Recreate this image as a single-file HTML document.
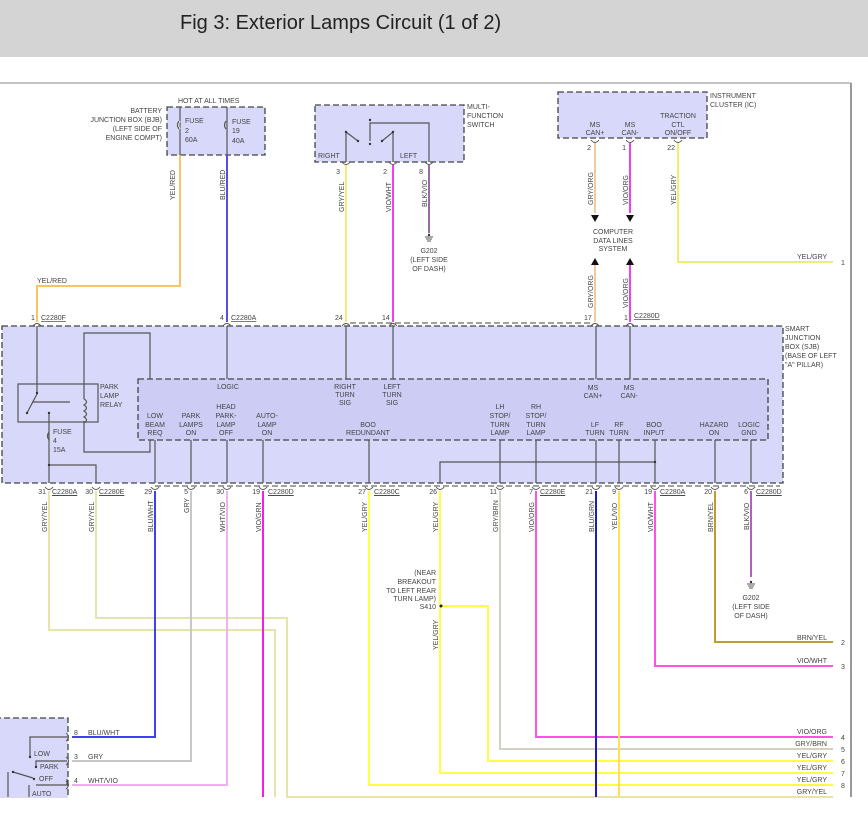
<!DOCTYPE html>
<html><head><meta charset="utf-8"><style>
html,body{margin:0;padding:0;background:#fff;}
svg{display:block;}
text{font-family:"Liberation Sans",sans-serif;font-size:7px;fill:#444;}
.t{font-size:20px;fill:#222;}
.d{fill:none;stroke:#444;stroke-width:1.3;stroke-dasharray:6,3;}
.w{fill:none;stroke-width:2;}
.k{fill:none;stroke:#555;stroke-width:1.2;}
.c{fill:none;stroke:#555;stroke-width:1;}
</style></head><body>
<svg width="868" height="820" viewBox="0 0 868 820" xmlns="http://www.w3.org/2000/svg">
<rect x="0" y="0" width="868" height="57" fill="#d4d4d4"/>
<text class="t" x="180" y="29">Fig 3: Exterior Lamps Circuit (1 of 2)</text>
<line x1="0" y1="83" x2="851" y2="83" stroke="#888" stroke-width="1"/>
<line x1="851" y1="83" x2="851" y2="797" stroke="#999" stroke-width="2"/>

<!-- boxes -->
<rect x="167" y="107" width="98" height="48" fill="#d8d8fa" class="d" style="fill:#d8d8fa"/>
<rect x="315" y="105" width="149" height="57" class="d" style="fill:#d8d8fa"/>
<rect x="558" y="92" width="149" height="46" class="d" style="fill:#d8d8fa"/>
<rect x="2" y="326" width="781" height="157" class="d" style="fill:#d8d8fa"/>
<rect x="138" y="379" width="630" height="61" class="d" style="fill:#ccccf5"/>
<rect x="-5" y="718" width="73" height="85" class="d" style="fill:#d8d8fa"/>
<rect x="0" y="798" width="868" height="22" fill="#fff"/>

<!-- BJB -->
<text x="178" y="103">HOT AT ALL TIMES</text>
<g text-anchor="end"><text x="162" y="113">BATTERY</text><text x="162" y="122">JUNCTION BOX (BJB)</text><text x="162" y="131">(LEFT SIDE OF</text><text x="162" y="140">ENGINE COMPT)</text></g>
<line x1="180" y1="107" x2="180" y2="155" class="k"/><line x1="227" y1="107" x2="227" y2="155" class="k"/>
<text x="185" y="123">FUSE</text><text x="185" y="133">2</text><text x="185" y="142">60A</text>
<text x="232" y="124">FUSE</text><text x="232" y="133">19</text><text x="232" y="143">40A</text>
<path d="M180 121 q-3 4 0 8" class="k" style="stroke:#fff"/>
<path d="M179 121 q-3 4 0 8" class="k"/><path d="M226 121 q-3 4 0 8" class="k"/>

<!-- YEL/RED, BLU/RED -->
<path d="M180 155 V286 H37 V322" class="w" stroke="#f7b27a"/>
<path d="M180 155 V286 H37 V322" fill="none" stroke="#ffe23a" stroke-width="0.8"/>
<text x="37" y="283">YEL/RED</text>
<text transform="translate(175,200) rotate(-90)">YEL/RED</text>
<path d="M227 155 V322" class="w" stroke="#5a4af0"/>
<text transform="translate(225,200) rotate(-90)">BLU/RED</text>

<!-- MFS -->
<text x="467" y="109">MULTI-</text><text x="467" y="118">FUNCTION</text><text x="467" y="127">SWITCH</text>
<text x="318" y="158">RIGHT</text><text x="400" y="158">LEFT</text>
<path d="M346 162 V132 L358 141 M393 162 V132 L382 141 M370 141 V123 H429 V162" class="k"/>
<circle cx="346" cy="132" r="1.2" fill="#333"/><circle cx="358" cy="141" r="1.2" fill="#333"/><circle cx="393" cy="132" r="1.2" fill="#333"/><circle cx="382" cy="141" r="1.2" fill="#333"/><circle cx="370" cy="120" r="1.2" fill="#333"/><circle cx="370" cy="144" r="1.2" fill="#333"/>
<path d="M346 165 V322" class="w" stroke="#f0ee70"/>
<path d="M393 165 V322" class="w" stroke="#f040f0"/>
<path d="M429 165 V233" class="w" stroke="#9a6aa8"/>
<text x="340" y="174" text-anchor="end">3</text><text x="387" y="174" text-anchor="end">2</text><text x="423" y="174" text-anchor="end">8</text>
<text transform="translate(344,212) rotate(-90)">GRY/YEL</text>
<text transform="translate(391,212) rotate(-90)">VIO/WHT</text>
<text transform="translate(427,207) rotate(-90)">BLK/VIO</text>
<path d="M425 237 h8 M426 239 h6 M427 241 h4" class="c"/><circle cx="429" cy="235" r="1.2" fill="#333"/>
<g text-anchor="middle"><text x="429" y="253">G202</text><text x="429" y="262">(LEFT SIDE</text><text x="429" y="271">OF DASH)</text></g>
<text x="335" y="320">24</text><text x="382" y="320">14</text>

<!-- IC -->
<text x="710" y="98">INSTRUMENT</text><text x="710" y="107">CLUSTER (IC)</text>
<g text-anchor="middle"><text x="595" y="127">MS</text><text x="595" y="135">CAN+</text><text x="630" y="127">MS</text><text x="630" y="135">CAN-</text><text x="678" y="118">TRACTION</text><text x="678" y="127">CTL</text><text x="678" y="135">ON/OFF</text>
<text x="613" y="234">COMPUTER</text><text x="613" y="243">DATA LINES</text><text x="613" y="251">SYSTEM</text></g>
<path d="M595 143 V213" class="w" stroke="#f4c8a0"/><path d="M630 143 V213" class="w" stroke="#f040f0"/>
<path d="M595 265 V322" class="w" stroke="#f4c8a0"/><path d="M630 265 V322" class="w" stroke="#f040f0"/>
<path d="M678 143 V262 H833" class="w" stroke="#f0ee70"/>
<polygon points="591,215 599,215 595,222" fill="#111"/><polygon points="626,215 634,215 630,222" fill="#111"/>
<polygon points="591,265 599,265 595,258" fill="#111"/><polygon points="626,265 634,265 630,258" fill="#111"/>
<text x="591" y="150" text-anchor="end">2</text><text x="626" y="150" text-anchor="end">1</text><text x="675" y="150" text-anchor="end">22</text>
<text transform="translate(593,205) rotate(-90)">GRY/ORG</text><text transform="translate(628,205) rotate(-90)">VIO/ORG</text><text transform="translate(676,205) rotate(-90)">YEL/GRY</text>
<text transform="translate(593,308) rotate(-90)">GRY/ORG</text><text transform="translate(628,308) rotate(-90)">VIO/ORG</text>
<text x="797" y="259">YEL/GRY</text><text x="841" y="265">1</text>
<text x="584" y="320">17</text><text x="624" y="320">1</text>

<!-- top connector labels -->
<text x="31" y="320">1</text><text x="41" y="320" text-decoration="underline">C2280F</text>
<text x="220" y="320">4</text><text x="231" y="320" text-decoration="underline">C2280A</text>
<text x="634" y="318" text-decoration="underline">C2280D</text>
<path d="M350 323 H590" class="d" style="stroke-width:1"/>
<g class="c">
<path d="M33 326 q4 -5 8 0 M223 326 q4 -5 8 0 M342 326 q4 -5 8 0 M389 326 q4 -5 8 0 M591 326 q4 -5 8 0 M626 326 q4 -5 8 0"/>
<path d="M342 162 q4 5 8 0 M389 162 q4 5 8 0 M425 162 q4 5 8 0 M591 140 q4 5 8 0 M626 140 q4 5 8 0 M674 140 q4 5 8 0"/>
</g>

<!-- SJB text -->
<text x="785" y="331">SMART</text><text x="785" y="340">JUNCTION</text><text x="785" y="349">BOX (SJB)</text><text x="785" y="358">(BASE OF LEFT</text><text x="785" y="367">"A" PILLAR)</text>
<g text-anchor="middle">
<text x="228" y="389">LOGIC</text>
<text x="345" y="389">RIGHT</text><text x="345" y="397">TURN</text><text x="345" y="405">SIG</text>
<text x="392" y="389">LEFT</text><text x="392" y="397">TURN</text><text x="392" y="405">SIG</text>
<text x="593" y="390">MS</text><text x="593" y="398">CAN+</text><text x="629" y="390">MS</text><text x="629" y="398">CAN-</text>
<text x="155" y="418">LOW</text><text x="155" y="427">BEAM</text><text x="155" y="435">REQ</text>
<text x="191" y="418">PARK</text><text x="191" y="427">LAMPS</text><text x="191" y="435">ON</text>
<text x="226" y="409">HEAD</text><text x="226" y="418">PARK-</text><text x="226" y="427">LAMP</text><text x="226" y="435">OFF</text>
<text x="267" y="418">AUTO-</text><text x="267" y="427">LAMP</text><text x="267" y="435">ON</text>
<text x="368" y="427">BOO</text><text x="368" y="435">REDUNDANT</text>
<text x="500" y="409">LH</text><text x="500" y="418">STOP/</text><text x="500" y="427">TURN</text><text x="500" y="435">LAMP</text>
<text x="536" y="409">RH</text><text x="536" y="418">STOP/</text><text x="536" y="427">TURN</text><text x="536" y="435">LAMP</text>
<text x="595" y="427">LF</text><text x="595" y="435">TURN</text><text x="619" y="427">RF</text><text x="619" y="435">TURN</text>
<text x="654" y="427">BOO</text><text x="654" y="435">INPUT</text>
<text x="714" y="427">HAZARD</text><text x="714" y="435">ON</text>
<text x="749" y="427">LOGIC</text><text x="749" y="435">GND</text>
</g>
<g class="k">
<path d="M37 326 V394 L27 413 M32 402 H70"/>
<path d="M227 326 V379 M346 326 V379 M393 326 V379 M596 326 V379 M630 326 V379"/>
<path d="M84 399 V333 H150 V379 M84 421 V452 H150 V440"/>
<path d="M49 413 V465 H96 V483 M49 465 V483"/>
<path d="M155 440 V483 M191 440 V483 M227 440 V483 M263 440 V483 M369 440 V483 M500 440 V483 M536 440 V483 M596 440 V483 M619 440 V483 M655 440 V483 M715 440 V483 M751 440 V483"/>
<path d="M440 483 V462 H655"/>
</g>
<rect x="18" y="384" width="80" height="38" class="k"/>
<path d="M84 399 q5 3 0 6 q5 3 0 6 q5 3 0 6 q5 3 0 6" class="k"/>
<path d="M49 432 q-3 4 0 8" class="k"/>
<circle cx="37" cy="393" r="1.2" fill="#333"/><circle cx="27" cy="413" r="1.2" fill="#333"/><circle cx="49" cy="413" r="1.2" fill="#333"/><circle cx="49" cy="465" r="1.2" fill="#333"/><circle cx="655" cy="462" r="1.2" fill="#333"/>
<text x="100" y="389">PARK</text><text x="100" y="398">LAMP</text><text x="100" y="407">RELAY</text>
<text x="53" y="434">FUSE</text><text x="53" y="443">4</text><text x="53" y="452">15A</text>

<!-- bottom pins -->
<path d="M155 486 H780" class="d" style="stroke-width:1"/>
<g class="c">
<path d="M45 487 q4 5 8 0 M92 487 q4 5 8 0 M151 487 q4 5 8 0 M187 487 q4 5 8 0 M223 487 q4 5 8 0 M259 487 q4 5 8 0 M365 487 q4 5 8 0 M436 487 q4 5 8 0 M496 487 q4 5 8 0 M532 487 q4 5 8 0 M592 487 q4 5 8 0 M615 487 q4 5 8 0 M651 487 q4 5 8 0 M711 487 q4 5 8 0 M747 487 q4 5 8 0"/>
</g>
<g text-anchor="end">
<text x="46" y="494">31</text><text x="93" y="494">30</text><text x="152" y="494">29</text><text x="188" y="494">5</text><text x="224" y="494">30</text><text x="260" y="494">19</text><text x="366" y="494">27</text><text x="437" y="494">26</text><text x="497" y="494">11</text><text x="533" y="494">7</text><text x="593" y="494">21</text><text x="616" y="494">9</text><text x="652" y="494">19</text><text x="712" y="494">20</text><text x="748" y="494">6</text>
</g>
<g text-decoration="underline">
<text x="52" y="494">C2280A</text><text x="99" y="494">C2280E</text><text x="268" y="494">C2280D</text><text x="374" y="494">C2280C</text><text x="540" y="494">C2280E</text><text x="660" y="494">C2280A</text><text x="756" y="494">C2280D</text>
</g>

<!-- bottom wires -->
<path d="M49 491 V630 H275 V797" class="w" stroke="#e6e4a6"/>
<path d="M96 491 V618 H287 V797 H833" class="w" stroke="#e6e4a6"/>
<path d="M155 491 V737 H72" class="w" stroke="#4040f0"/>
<path d="M191 491 V761 H72" class="w" stroke="#c8c8c8"/>
<path d="M227 491 V785 H72" class="w" stroke="#f0b0ec"/>
<path d="M263 491 V797" class="w" stroke="#f020e8"/>
<path d="M369 491 V785 H833" class="w" stroke="#ffff40"/>
<path d="M440 491 V773 H833" class="w" stroke="#ffff40"/>
<path d="M441 606 H488 V761 H833" class="w" stroke="#ffff40"/>
<path d="M500 491 V749 H833" class="w" stroke="#d4d0c4"/>
<path d="M536 491 V737 H833" class="w" stroke="#ff50ec"/>
<path d="M596 491 V797" class="w" stroke="#1a1ad0"/>
<path d="M619 491 V797" class="w" stroke="#ffe050"/>
<path d="M655 491 V666 H833" class="w" stroke="#ff50ec"/>
<path d="M715 491 V642 H833" class="w" stroke="#b8a030"/>
<path d="M751 491 V577" class="w" stroke="#b060c0"/>
<circle cx="441" cy="606" r="1.5" fill="#222"/>
<path d="M747 584 h8 M748 586 h6 M749 588 h4" class="c"/><circle cx="751" cy="582" r="1.2" fill="#333"/>
<g text-anchor="middle"><text x="751" y="600">G202</text><text x="751" y="609">(LEFT SIDE</text><text x="751" y="618">OF DASH)</text></g>
<g text-anchor="end"><text x="436" y="575">(NEAR</text><text x="436" y="584">BREAKOUT</text><text x="436" y="593">TO LEFT REAR</text><text x="436" y="601">TURN LAMP)</text><text x="436" y="609">S410</text></g>

<g>
<text transform="translate(47,532) rotate(-90)">GRY/YEL</text><text transform="translate(94,532) rotate(-90)">GRY/YEL</text>
<text transform="translate(153,532) rotate(-90)">BLU/WHT</text><text transform="translate(189,513) rotate(-90)">GRY</text>
<text transform="translate(225,532) rotate(-90)">WHT/VIO</text><text transform="translate(261,532) rotate(-90)">VIO/GRN</text>
<text transform="translate(367,532) rotate(-90)">YEL/GRY</text><text transform="translate(438,532) rotate(-90)">YEL/GRY</text>
<text transform="translate(438,650) rotate(-90)">YEL/GRY</text>
<text transform="translate(498,532) rotate(-90)">GRY/BRN</text><text transform="translate(534,532) rotate(-90)">VIO/ORG</text>
<text transform="translate(594,532) rotate(-90)">BLU/GRN</text><text transform="translate(617,530) rotate(-90)">YEL/VIO</text>
<text transform="translate(653,532) rotate(-90)">VIO/WHT</text><text transform="translate(713,532) rotate(-90)">BRN/YEL</text>
<text transform="translate(749,530) rotate(-90)">BLK/VIO</text>
</g>
<g text-anchor="end">
<text x="827" y="640">BRN/YEL</text><text x="827" y="663">VIO/WHT</text><text x="827" y="734">VIO/ORG</text><text x="827" y="746">GRY/BRN</text><text x="827" y="758">YEL/GRY</text><text x="827" y="770">YEL/GRY</text><text x="827" y="782">YEL/GRY</text><text x="827" y="794">GRY/YEL</text>
</g>
<text x="841" y="645">2</text><text x="841" y="669">3</text><text x="841" y="740">4</text><text x="841" y="752">5</text><text x="841" y="764">6</text><text x="841" y="776">7</text><text x="841" y="788">8</text>

<!-- headlamp switch -->
<text x="74" y="735">8</text><text x="88" y="735">BLU/WHT</text>
<text x="74" y="759">3</text><text x="88" y="759">GRY</text>
<text x="74" y="783">4</text><text x="88" y="783">WHT/VIO</text>
<g class="c"><path d="M66 733 q5 4 0 8 M66 757 q5 4 0 8 M66 781 q5 4 0 8"/></g>
<path d="M30 757 V737 H67 M36 767 V761 H67 M36 785 H67 V779 M13 772 L33 778 M29 797 V785 M8 772 V797" class="k"/>
<circle cx="30" cy="757" r="1.2" fill="#333"/><circle cx="36" cy="767" r="1.2" fill="#333"/><circle cx="13" cy="772" r="1.2" fill="#333"/><circle cx="34" cy="779" r="1.2" fill="#333"/>
<text x="34" y="756">LOW</text><text x="40" y="769">PARK</text><text x="39" y="781">OFF</text><text x="32" y="796">AUTO</text>
<rect x="0" y="798" width="868" height="22" fill="#fff"/>
</svg>
</body></html>
